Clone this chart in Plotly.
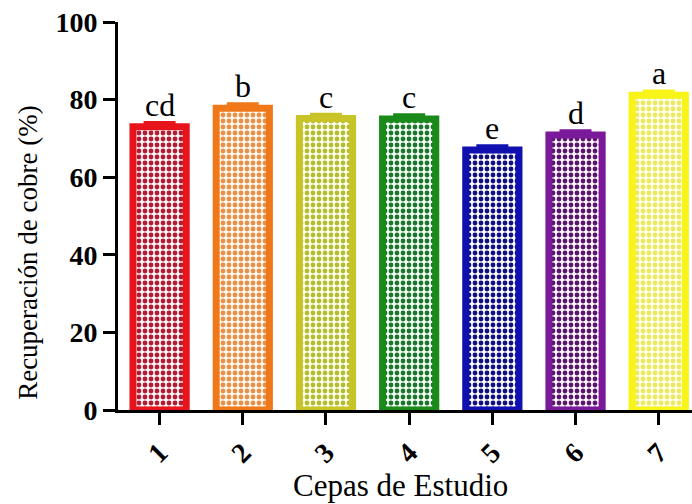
import plotly.graph_objects as go

categories = ["1", "2", "3", "4", "5", "6", "7"]
values = [73.0, 77.8, 75.1, 75.0, 67.0, 70.9, 81.1]
errors = [1.1, 1.1, 1.1, 1.1, 1.1, 1.1, 1.1]
letters = ["cd", "b", "c", "c", "e", "d", "a"]
y_ticks = [0, 20, 40, 60, 80, 100]

outline_colors = ["#e8141c", "#f07818", "#c8c428", "#1a8a1a", "#1010b0", "#7a1a9a", "#f8f418"]
pattern_colors = ["#b01c34", "#e8904a", "#b4bc30", "#1e742e", "#10107e", "#581868", "#ece860"]
back_colors = ["#fff4f4", "#fff8ee", "#fcfff0", "#f0fff0", "#fafaff", "#fff4ff", "#ffffee"]

xpos = [i + 1 for i in range(len(categories))]

fig = go.Figure()
for i, cat in enumerate(categories):
    fig.add_trace(go.Bar(
        x=[xpos[i]], y=[values[i]], width=0.64,
        marker=dict(
            color=back_colors[i],
            line=dict(color=outline_colors[i], width=7),
            pattern=dict(shape=".", fgcolor=pattern_colors[i], bgcolor=back_colors[i],
                         fgopacity=1, size=6, solidity=0.5, fillmode="overlay"),
        ),
        error_y=dict(type="data", symmetric=False, array=[errors[i]], arrayminus=[0],
                     color=outline_colors[i], thickness=3, width=16),
        showlegend=False,
    ))
    fig.add_annotation(x=xpos[i], y=values[i], text=letters[i], showarrow=False,
                       yanchor="middle", yshift=22,
                       font=dict(family="Liberation Serif", size=32, color="black"))

fig.add_annotation(xref="paper", yref="paper", x=0, y=0.405, xshift=-90,
                   text="Recuperación de cobre (%)", textangle=-90, showarrow=False,
                   xanchor="center", yanchor="middle",
                   font=dict(family="Liberation Serif", size=27, color="black"))
fig.add_annotation(xref="paper", yref="paper", x=0.493, y=0, yshift=-75,
                   text="Cepas de Estudio", showarrow=False,
                   xanchor="center", yanchor="middle",
                   font=dict(family="Liberation Serif", size=31, color="black"))

fig.update_layout(
    width=692, height=504,
    margin=dict(l=118, r=0, t=22, b=94),
    paper_bgcolor="white", plot_bgcolor="white",
    barmode="overlay",
    xaxis=dict(
        range=[0.5, 7.4], tickmode="array", tickvals=xpos, ticktext=categories,
        tickangle=-45, showline=True, linecolor="black", linewidth=3,
        ticks="outside", ticklen=12, tickwidth=3, tickcolor="black",
        showgrid=False, zeroline=False,
        tickfont=dict(family="Liberation Serif", size=28, color="black", weight="bold"),
    ),
    yaxis=dict(
        range=[0, 100], tickmode="array", tickvals=y_ticks,
        showline=True, linecolor="black", linewidth=3,
        ticks="outside", ticklen=12, tickwidth=3, tickcolor="black",
        showgrid=False, zeroline=False,
        tickfont=dict(family="Liberation Serif", size=28, color="black", weight="bold"),
    ),
)

fig.write_html("out.html")
